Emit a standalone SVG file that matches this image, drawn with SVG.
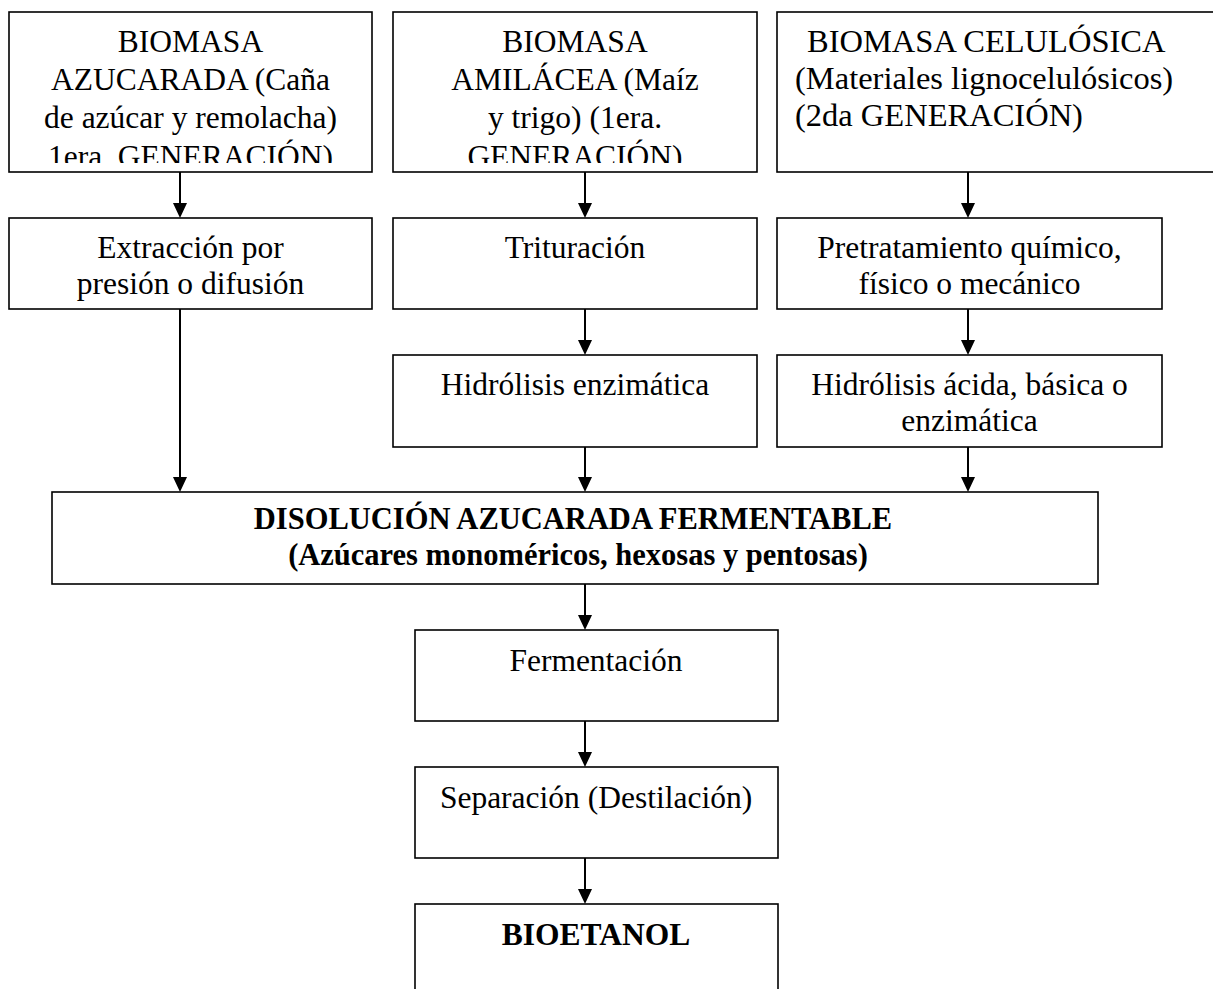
<svg xmlns="http://www.w3.org/2000/svg" width="1213" height="989" viewBox="0 0 1213 989">
  <style>
    .box { fill: #ffffff; stroke: #000000; stroke-width: 1.6; }
    .lbl { font-family: "Liberation Serif", "Times New Roman", serif; font-size: 31.5px; fill: #000000; }
    .big { font-size: 32.5px; }
    .mid { text-anchor: middle; }
    .bold { font-weight: bold; }
    .head { font-size: 30.5px; }
    .link { fill: none; stroke: #000000; stroke-width: 2; marker-end: url(#head); }
  </style>
  <defs>
    <marker id="head" markerUnits="userSpaceOnUse" markerWidth="15" markerHeight="14" refX="7" refY="7" orient="auto">
      <path d="M0,0 L15,7 L0,14 z" fill="#000000"/>
    </marker>
    <!-- the last line of the two left source boxes is cut by the frame -->
    <clipPath id="clipSrc1"><rect x="10" y="13" width="361" height="150"/></clipPath>
    <clipPath id="clipSrc2"><rect x="394" y="13" width="362" height="150"/></clipPath>
  </defs>
  <rect x="0" y="0" width="1213" height="989" fill="#ffffff"/>

  <!-- source biomass boxes -->
  <g id="src-azucarada">
    <rect class="box" x="9" y="12" width="363" height="160"/>
    <g clip-path="url(#clipSrc1)">
      <text class="lbl mid" x="190.5" y="52">BIOMASA</text>
      <text class="lbl mid" x="190.5" y="90">AZUCARADA (Caña</text>
      <text class="lbl mid" x="190.5" y="128">de azúcar y remolacha)</text>
      <text class="lbl mid" x="190.5" y="167">1era. GENERACIÓN)</text>
    </g>
  </g>
  <g id="src-amilacea">
    <rect class="box" x="393" y="12" width="364" height="160"/>
    <g clip-path="url(#clipSrc2)">
      <text class="lbl mid" x="575" y="52">BIOMASA</text>
      <text class="lbl mid" x="575" y="90">AMILÁCEA (Maíz</text>
      <text class="lbl mid" x="575" y="128">y trigo) (1era.</text>
      <text class="lbl mid" x="575" y="167">GENERACIÓN)</text>
    </g>
  </g>
  <g id="src-celulosica">
    <rect class="box" x="777" y="12" width="450" height="160"/>
    <text class="lbl big" x="807" y="52">BIOMASA CELULÓSICA</text>
    <text class="lbl big" x="795" y="89">(Materiales lignocelulósicos)</text>
    <text class="lbl big" x="795" y="126">(2da GENERACIÓN)</text>
  </g>

  <!-- pretreatment row -->
  <g id="extraccion">
    <rect class="box" x="9" y="218" width="363" height="91"/>
    <text class="lbl mid" x="190.5" y="258">Extracción por</text>
    <text class="lbl mid" x="190.5" y="294">presión o difusión</text>
  </g>
  <g id="trituracion">
    <rect class="box" x="393" y="218" width="364" height="91"/>
    <text class="lbl mid" x="575" y="258">Trituración</text>
  </g>
  <g id="pretratamiento">
    <rect class="box" x="777" y="218" width="385" height="91"/>
    <text class="lbl mid" x="969.5" y="258">Pretratamiento químico,</text>
    <text class="lbl mid" x="969.5" y="294">físico o mecánico</text>
  </g>

  <!-- hydrolysis row -->
  <g id="hidrolisis-enzimatica">
    <rect class="box" x="393" y="355" width="364" height="92"/>
    <text class="lbl mid" x="575" y="395">Hidrólisis enzimática</text>
  </g>
  <g id="hidrolisis-acida">
    <rect class="box" x="777" y="355" width="385" height="92"/>
    <text class="lbl mid" x="969.5" y="395">Hidrólisis ácida, básica o</text>
    <text class="lbl mid" x="969.5" y="431">enzimática</text>
  </g>

  <!-- fermentable sugar solution -->
  <g id="disolucion">
    <rect class="box" x="52" y="492" width="1046" height="92"/>
    <text class="lbl mid bold head" x="573" y="529">DISOLUCIÓN AZUCARADA FERMENTABLE</text>
    <text class="lbl mid bold head" x="578" y="565">(Azúcares monoméricos, hexosas y pentosas)</text>
  </g>

  <!-- downstream steps -->
  <g id="fermentacion">
    <rect class="box" x="415" y="630" width="363" height="91"/>
    <text class="lbl mid" x="596" y="671">Fermentación</text>
  </g>
  <g id="separacion">
    <rect class="box" x="415" y="767" width="363" height="91"/>
    <text class="lbl mid" x="596" y="808">Separación (Destilación)</text>
  </g>
  <g id="bioetanol">
    <rect class="box" x="415" y="904" width="363" height="120"/>
    <text class="lbl mid bold" x="596" y="945">BIOETANOL</text>
  </g>

  <!-- connectors -->
  <g id="connectors">
    <path class="link" d="M180,172 V210"/>
    <path class="link" d="M585,172 V210"/>
    <path class="link" d="M968,172 V210"/>
    <path class="link" d="M180,309 V484"/>
    <path class="link" d="M585,309 V347"/>
    <path class="link" d="M968,309 V347"/>
    <path class="link" d="M585,447 V484"/>
    <path class="link" d="M968,447 V484"/>
    <path class="link" d="M585,584 V622"/>
    <path class="link" d="M585,721 V759"/>
    <path class="link" d="M585,858 V896"/>
  </g>
</svg>
